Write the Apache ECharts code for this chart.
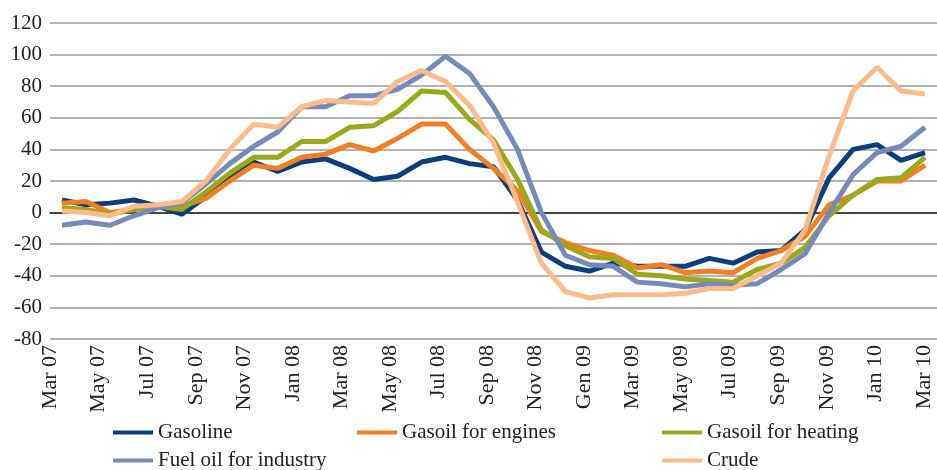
<!DOCTYPE html>
<html>
<head>
<meta charset="utf-8">
<script src="https://cdn.jsdelivr.net/npm/echarts@6/dist/echarts.min.js"></script>
<style>
  html, body { margin: 0; padding: 0; background: #fff; }
  #chart { width: 937px; height: 470px; }
</style>
</head>
<body>
<div id="chart"></div>
<script>
// months Mar 07 .. Mar 10
var months = [
  "Mar 07", "Apr 07", "May 07", "Jun 07", "Jul 07", "Aug 07", "Sep 07", "Oct 07", "Nov 07", "Dec 07",
  "Jan 08", "Feb 08", "Mar 08", "Apr 08", "May 08", "Jun 08", "Jul 08", "Aug 08", "Sep 08", "Oct 08",
  "Nov 08", "Dec 08", "Gen 09", "Feb 09", "Mar 09", "Apr 09", "May 09", "Jun 09", "Jul 09", "Aug 09",
  "Sep 09", "Oct 09", "Nov 09", "Dec 09", "Jan 10", "Feb 10", "Mar 10"
];

var gasoline = [8, 5, 6, 8, 4, -1, 10, 22, 32, 26, 32, 34, 28, 21, 23, 32, 35, 31, 29, 8,
  -25, -34, -37, -32, -34, -34, -34, -29, -32, -25, -24, -11, 22, 40, 43, 33, 38];
var gasoilEngines = [6, 7, 0, 2, 4, 4, 9, 20, 30, 28, 35, 37, 43, 39, 47, 56, 56, 40, 28, 14,
  -12, -19, -24, -27, -35, -33, -38, -37, -38, -29, -24, -15, 5, 11, 20, 20, 30];
var gasoilHeating = [3, 2, -1, 2, 4, 2, 13, 25, 35, 35, 45, 45, 54, 55, 64, 77, 76, 59, 46, 21,
  -11, -21, -28, -29, -39, -40, -42, -43, -44, -36, -32, -22, -2, 11, 21, 22, 35];
var fuelOil = [-8, -6, -8, -2, 3, 6, 18, 31, 42, 51, 67, 67, 74, 74, 78, 87, 99, 88, 67, 40,
  0, -27, -33, -34, -44, -45, -47, -45, -46, -45, -36, -26, 0, 24, 38, 42, 54];
var crude = [1, 0, -2, 4, 5, 7, 20, 40, 56, 54, 67, 71, 70, 69, 83, 90, 83, 68, 44, 7,
  -32, -50, -54, -52, -52, -52, -51, -48, -48, -40, -32, -11, 36, 77, 92, 77, 75];

var names = ["Gasoline", "Gasoil for engines", "Gasoil for heating", "Fuel oil for industry", "Crude"];
var colors = ["#0b3f7c", "#f47f22", "#9aa81a", "#7589bb", "#fdbb8a"];
var values = [gasoline, gasoilEngines, gasoilHeating, fuelOil, crude];

var font = "'Liberation Serif', 'Times New Roman', serif";

var chart = echarts.init(document.getElementById("chart"));

// legend laid out like the original: 3 columns, 2 rows
var legendPos = [
  { left: 113, top: 422 },
  { left: 357, top: 422 },
  { left: 662, top: 422 },
  { left: 113, top: 450 },
  { left: 662, top: 450 }
];

var option = {
  animation: false,
  grid: [
    { left: 50, right: 0, top: 23, bottom: 131 },
    // only used to place the month labels (excel shifts them a little)
    { left: 38, right: 1, top: 23, bottom: 131 }
  ],
  legend: names.map(function (n, i) {
    return {
      data: [n],
      left: legendPos[i].left,
      top: legendPos[i].top,
      padding: 0,
      icon: "rect",
      itemWidth: 40,
      itemHeight: 4,
      selectedMode: false,
      textStyle: { fontFamily: font, fontSize: 21, color: "#222" }
    };
  }),
  xAxis: [
    {
      // zero line with ticks
      type: "category",
      data: months,
      gridIndex: 0,
      axisLine: { onZero: true, lineStyle: { color: "#222", width: 1.5 } },
      axisTick: { interval: 1, length: 5, lineStyle: { color: "#222" } },
      axisLabel: { show: false }
    },
    {
      // labels along the bottom
      type: "category",
      data: months,
      gridIndex: 1,
      position: "bottom",
      axisLine: { show: false, onZero: false },
      axisTick: { show: false },
      axisLabel: {
        interval: 1,
        rotate: 90,
        margin: 6,
        fontFamily: font,
        fontSize: 22,
        color: "#222"
      }
    }
  ],
  yAxis: [
    {
      type: "value",
      gridIndex: 0,
      min: -80,
      max: 120,
      interval: 20,
      axisLine: { show: false },
      axisTick: { show: false },
      axisLabel: { margin: 8, fontFamily: font, fontSize: 21, color: "#222" },
      splitLine: { lineStyle: { color: "#999", width: 1.5 } }
    },
    {
      type: "value",
      gridIndex: 1,
      min: -80,
      max: 120,
      show: false
    }
  ],
  series: names.map(function (n, i) {
    return {
      name: n,
      type: "line",
      xAxisIndex: 0,
      yAxisIndex: 0,
      data: values[i],
      symbol: "none",
      color: colors[i],
      lineStyle: { width: 5, color: colors[i] }
    };
  })
};

chart.setOption(option);
</script>
</body>
</html>
